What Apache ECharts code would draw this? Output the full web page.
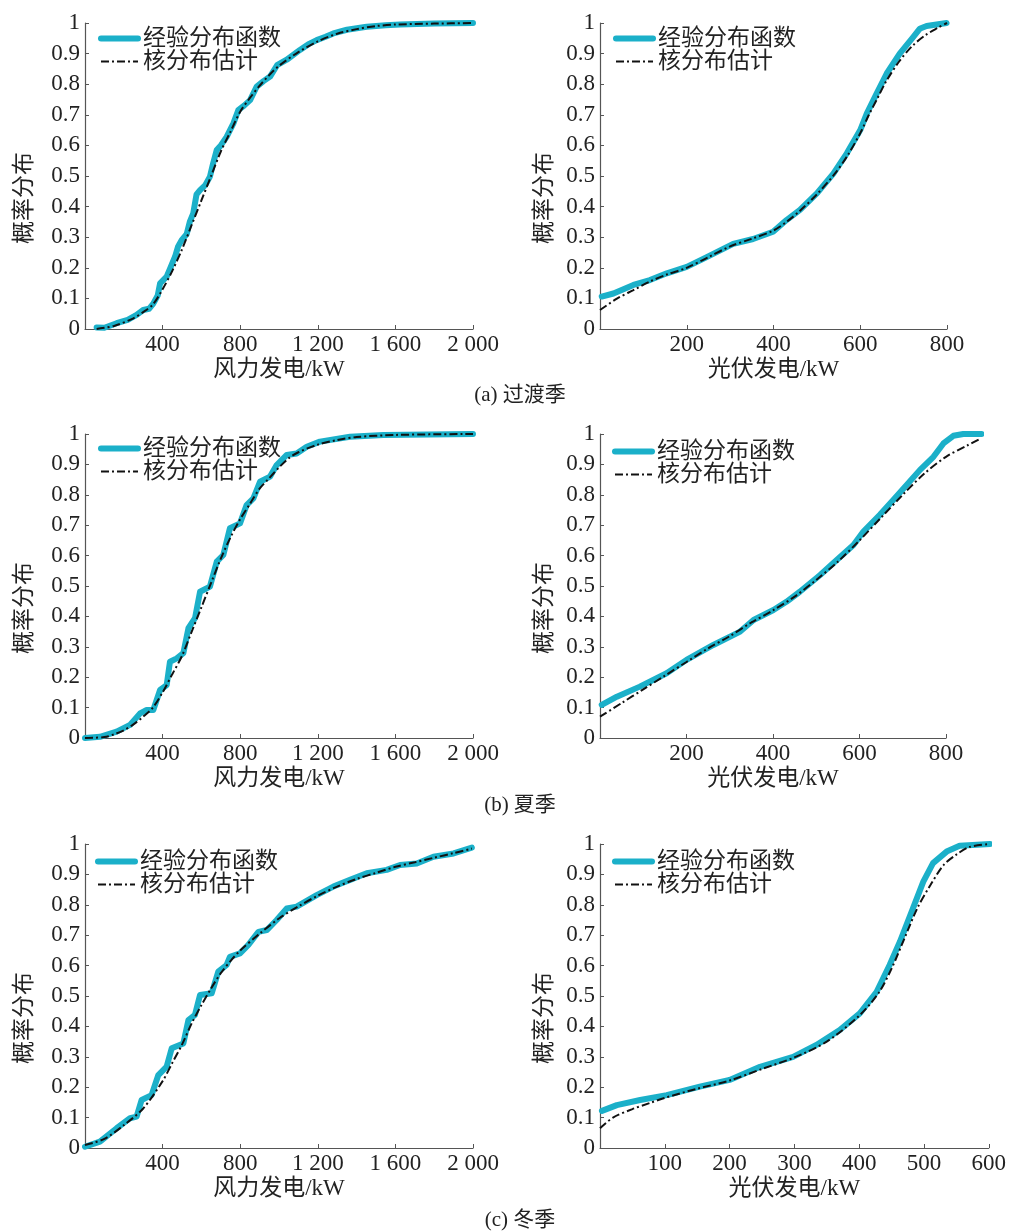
<!DOCTYPE html>
<html><head><meta charset="utf-8">
<script src="https://cdn.jsdelivr.net/npm/echarts@6/dist/echarts.min.js"></script>
<style>html,body{margin:0;padding:0;background:#fff}#c{width:1009px;height:1231px}</style>
</head><body><div id="c"></div>
<script>
// ---------- data ----------
const legendNames = ['经验分布函数', '核分布估计'];
const windLabel = '风力发电/kW';
const pvLabel = '光伏发电/kW';
const yLabel = '概率分布';
const captions = ['(a) 过渡季', '(b) 夏季', '(c) 冬季'];

// (a) transition season - wind
const windTransEmp = [[60,0.005],[100,0.004],[163,0.019],[220,0.03],[266,0.046],[300,0.062],[330,0.066],[352,0.083],[375,0.11],[387,0.149],[421,0.171],[440,0.2],[464,0.236],[480,0.27],[498,0.29],[524,0.31],[540,0.35],[558,0.378],[575,0.44],[593,0.454],[620,0.47],[644,0.498],[660,0.54],[679,0.585],[700,0.6],[730,0.628],[765,0.672],[790,0.715],[820,0.73],[851,0.748],[885,0.792],[920,0.81],[954,0.825],[990,0.862],[1040,0.88],[1108,0.912],[1150,0.93],[1194,0.944],[1240,0.955],[1280,0.966],[1350,0.978],[1452,0.988],[1550,0.993],[1624,0.995],[1800,0.998],[2000,1.0]];
const windTransKde = [[60,0],[150,0.01],[250,0.035],[300,0.055],[350,0.08],[400,0.13],[450,0.19],[500,0.26],[550,0.34],[600,0.42],[650,0.5],[700,0.58],[750,0.645],[800,0.71],[850,0.755],[900,0.795],[950,0.83],[1000,0.86],[1100,0.905],[1200,0.94],[1300,0.965],[1400,0.98],[1500,0.99],[1600,0.995],[1800,0.998],[2000,1.0]];
// (a) transition season - PV
const pvTransEmp = [[4,0.106],[31,0.116],[77,0.144],[115,0.16],[154,0.182],[200,0.203],[246,0.235],[307,0.278],[353,0.294],[399,0.318],[430,0.356],[461,0.389],[500,0.443],[538,0.508],[569,0.574],[600,0.65],[615,0.704],[638,0.77],[661,0.835],[691,0.9],[722,0.954],[737,0.981],[753,0.99],[799,1.0]];
const pvTransKde = [[0,0.062],[40,0.1],[77,0.127],[115,0.155],[154,0.178],[200,0.2],[250,0.235],[300,0.27],[350,0.295],[400,0.322],[430,0.35],[460,0.385],[500,0.44],[540,0.505],[570,0.565],[600,0.64],[620,0.7],[640,0.755],[660,0.81],[690,0.875],[720,0.925],[750,0.96],[780,0.985],[800,1.0]];
// (b) summer - wind
const windSumEmp = [[0,0],[77,0.004],[163,0.021],[232,0.043],[284,0.081],[318,0.092],[352,0.092],[387,0.158],[421,0.174],[438,0.251],[473,0.262],[507,0.279],[533,0.361],[567,0.394],[593,0.481],[644,0.498],[679,0.58],[713,0.602],[747,0.69],[799,0.706],[833,0.766],[868,0.788],[902,0.843],[954,0.86],[988,0.898],[1040,0.931],[1091,0.936],[1143,0.958],[1211,0.975],[1366,0.991],[1538,0.997],[2000,1.0]];
const windSumKde = [[0,0],[100,0.003],[150,0.012],[200,0.025],[250,0.045],[300,0.07],[350,0.1],[400,0.15],[450,0.21],[500,0.27],[550,0.35],[600,0.43],[650,0.51],[700,0.59],[750,0.66],[800,0.72],[850,0.77],[900,0.82],[950,0.855],[1000,0.89],[1050,0.92],[1100,0.94],[1200,0.965],[1300,0.98],[1400,0.99],[1600,0.997],[2000,1.0]];
// (b) summer - PV (data run past the last tick, to about 880 kW)
const pvSumEmp = [[4,0.109],[39,0.136],[92,0.169],[154,0.213],[200,0.257],[262,0.306],[324,0.35],[355,0.388],[401,0.421],[431,0.448],[462,0.481],[509,0.536],[539,0.575],[586,0.635],[609,0.679],[647,0.734],[678,0.783],[709,0.832],[740,0.882],[771,0.925],[794,0.969],[817,0.994],[840,1.0],[882,1.0]];
const pvSumKde = [[0,0.07],[50,0.115],[100,0.16],[150,0.205],[200,0.25],[250,0.295],[300,0.335],[350,0.38],[400,0.42],[450,0.465],[500,0.52],[550,0.58],[600,0.65],[650,0.725],[700,0.8],[750,0.87],[800,0.925],[850,0.963],[880,0.985]];
// (c) winter - wind
const windWinEmp = [[0,0.004],[77,0.021],[163,0.065],[232,0.098],[266,0.103],[292,0.158],[343,0.174],[378,0.24],[421,0.268],[447,0.328],[507,0.344],[533,0.421],[567,0.438],[593,0.503],[653,0.509],[687,0.58],[730,0.602],[747,0.629],[799,0.64],[842,0.668],[894,0.711],[937,0.717],[988,0.75],[1040,0.788],[1091,0.794],[1194,0.832],[1280,0.86],[1366,0.882],[1452,0.904],[1555,0.915],[1624,0.931],[1710,0.936],[1796,0.958],[1900,0.969],[1994,0.988]];
const windWinKde = [[0,0.01],[100,0.03],[200,0.075],[300,0.13],[400,0.22],[450,0.28],[500,0.34],[550,0.41],[600,0.47],[650,0.525],[700,0.575],[750,0.615],[800,0.65],[900,0.705],[1000,0.755],[1100,0.795],[1200,0.83],[1300,0.86],[1400,0.885],[1500,0.905],[1600,0.925],[1700,0.94],[1800,0.955],[1900,0.97],[1994,0.985]];
// (c) winter - PV
const pvWinEmp = [[3,0.122],[26,0.141],[62,0.158],[103,0.174],[154,0.202],[200,0.224],[247,0.267],[298,0.3],[334,0.339],[370,0.388],[401,0.443],[427,0.514],[447,0.602],[463,0.679],[483,0.788],[499,0.876],[514,0.937],[535,0.975],[555,0.994],[602,1.0]];
const pvWinKde = [[0,0.065],[20,0.1],[50,0.128],[77,0.148],[100,0.165],[150,0.195],[200,0.222],[250,0.26],[300,0.298],[350,0.35],[400,0.435],[430,0.51],[450,0.59],[470,0.69],[490,0.79],[510,0.865],[530,0.93],[550,0.965],[570,0.99],[602,1.0]];

const windTicks = {min: 0, max: 2000, interval: 400};
const pvTicksA = {min: 0, max: 800, interval: 200};
const pvTicksB = {min: 0, max: 800, interval: 200, dataMax: 880};
const pvTicksC = {min: 0, max: 600, interval: 100};

// ---------- layout ----------
const FONT = "'Liberation Serif','Noto Sans CJK SC',serif";
const CYAN = '#1BB0C9';
const panels = [
  {grid:{left:85,top:23,width:388,height:306}, ticks:windTicks, name:windLabel, emp:windTransEmp, kde:windTransKde, legend:{left:98,top:27}},
  {grid:{left:600,top:23,width:347,height:306}, ticks:pvTicksA, name:pvLabel, emp:pvTransEmp, kde:pvTransKde, legend:{left:613,top:27}},
  {grid:{left:85,top:434,width:388,height:304}, ticks:windTicks, name:windLabel, emp:windSumEmp, kde:windSumKde, legend:{left:98,top:437}},
  {grid:{left:600,top:434,width:346,height:304}, ticks:pvTicksB, name:pvLabel, emp:pvSumEmp, kde:pvSumKde, legend:{left:612,top:440}},
  {grid:{left:85,top:844,width:388,height:304}, ticks:windTicks, name:windLabel, emp:windWinEmp, kde:windWinKde, legend:{left:95,top:850}},
  {grid:{left:600,top:844,width:389,height:304}, ticks:pvTicksC, name:pvLabel, emp:pvWinEmp, kde:pvWinKde, legend:{left:612,top:850}}
];

function fmtX(v){
  if (v === 0) return '';
  if (v >= 1000) { const s = String(v); return s.slice(0, s.length-3) + ' ' + s.slice(-3); }
  return String(v);
}
function fmtY(v){
  if (Math.abs(v) < 1e-9) return '0';
  if (Math.abs(v-1) < 1e-9) return '1';
  return v.toFixed(1);
}

const grids = [], xAxes = [], yAxes = [], series = [], legends = [], graphics = [];
panels.forEach((p, i) => {
  grids.push(Object.assign({containLabel:false}, p.grid));
  const axisLine = {show:true, lineStyle:{color:'#555', width:1.2}};
  const axisTick = {show:true, inside:true, length:4, lineStyle:{color:'#555', width:1}};
  xAxes.push({
    type:'value', gridIndex:i, min:p.ticks.min, max:p.ticks.max, interval:p.ticks.interval,
    axisLine, axisTick, splitLine:{show:false},
    axisLabel:{formatter:fmtX, fontFamily:FONT, fontSize:23, color:'#222', margin:4},
    name:p.name, nameLocation:'middle', nameGap:29,
    nameTextStyle:{fontFamily:FONT, fontSize:23, color:'#222', verticalAlign:'top'}
  });
  yAxes.push({
    type:'value', gridIndex:i, min:0, max:1, interval:0.1,
    axisLine, axisTick, splitLine:{show:false},
    axisLabel:{formatter:fmtY, fontFamily:FONT, fontSize:23, color:'#222', margin:5}
  });
  legends.push({
    orient:'vertical', left:p.legend.left, top:p.legend.top,
    itemWidth:37, itemHeight:22, itemGap:0, padding:0, selectedMode:false,
    data:legendNames,
    itemStyle:{opacity:0},
    lineStyle:{width:'inherit'},
    textStyle:{fontFamily:FONT, fontSize:23, color:'#222', padding:[0,0,0,0]}
  });
  const g = p.grid;
  graphics.push({
    type:'text', x: (i % 2 === 0) ? 22 : 542, y: g.top + g.height/2 + 22, rotation: Math.PI/2,
    style:{text:yLabel, font:"23px 'Noto Sans CJK SC'", fill:'#222', textAlign:'center', textVerticalAlign:'middle'}
  });
});

// series; a panel whose data run past the last tick gets a hidden, wider data grid
panels.forEach((p, i) => {
  let xi = i, yi = i;
  if (p.ticks.dataMax) {
    const g = p.grid;
    const w = g.width * (p.ticks.dataMax - p.ticks.min) / (p.ticks.max - p.ticks.min);
    grids.push({left:g.left, top:g.top, width:w, height:g.height, containLabel:false});
    const gi = grids.length - 1;
    xAxes.push({type:'value', gridIndex:gi, min:p.ticks.min, max:p.ticks.dataMax, show:false});
    yAxes.push({type:'value', gridIndex:gi, min:0, max:1, show:false});
    xi = xAxes.length - 1; yi = yAxes.length - 1;
  }
  series.push({
    name:legendNames[0], type:'line', xAxisIndex:xi, yAxisIndex:yi, data:p.emp,
    showSymbol:false, symbol:'none', smooth:false, clip:false,
    lineStyle:{color:CYAN, width:6, join:'round', cap:'round'}, itemStyle:{color:CYAN}, z:2
  });
  series.push({
    name:legendNames[1], type:'line', xAxisIndex:xi, yAxisIndex:yi, data:p.kde,
    showSymbol:false, symbol:'none', smooth:0.3, clip:false,
    lineStyle:{color:'#111', width:2, type:[8,3,2,3]}, itemStyle:{color:'#111'}, z:3
  });
});

const capY = [395, 805, 1220];
captions.forEach((c, i) => {
  graphics.push({type:'text', x:520, y:capY[i],
    style:{text:c, font:"21px 'Liberation Serif','Noto Sans CJK SC'", fill:'#222', textAlign:'center', textVerticalAlign:'middle'}});
});

const chart = echarts.init(document.getElementById('c'), null, {renderer:'canvas'});
chart.setOption({
  animation:false, backgroundColor:'#fff',
  grid:grids, xAxis:xAxes, yAxis:yAxes, series, legend:legends, graphic:graphics
});
</script></body></html>
